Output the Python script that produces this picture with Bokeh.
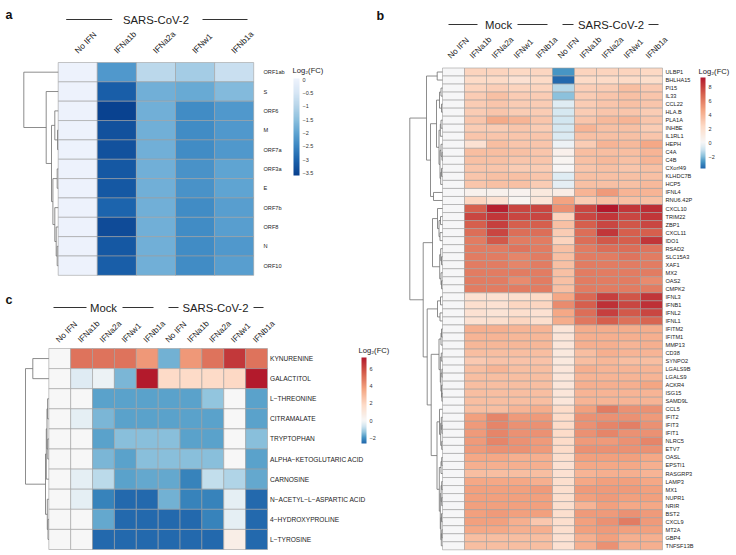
import numpy as np
from bokeh.plotting import figure
from bokeh.models import (Range1d, ColumnDataSource, LinearColorMapper, ColorBar,
                          FixedTicker, CustomJSTickFormatter, AllLabels)
from bokeh.layouts import row, column
from bokeh.embed import file_html
from bokeh.resources import INLINE
from bokeh.core.properties import value

FONT = "Liberation Sans"

# ---------------- data: panel a ----------------
A_COLS = ["No IFN", "IFNa1b", "IFNa2a", "IFNw1", "IFNb1a"]
A_GROUP = "SARS-CoV-2"
A_ROWS = ["ORF1ab", "S", "ORF6", "M", "ORF7a", "ORF3a", "E", "ORF7b", "ORF8", "N", "ORF10"]
A_VALUES = [
    [0, -2.2, -0.9, -1.2, -0.7],
    [0, -3.1, -1.8, -1.9, -1.6],
    [0, -3.55, -1.8, -2.4, -2.2],
    [0, -3.3, -1.8, -2.4, -2.2],
    [0, -3.3, -1.8, -2.4, -2.2],
    [0, -3.2, -1.8, -2.3, -2.0],
    [0, -3.2, -1.8, -2.3, -2.0],
    [0, -3.0, -1.8, -2.4, -2.1],
    [0, -3.4, -1.8, -2.4, -2.1],
    [0, -3.2, -1.8, -2.4, -2.2],
    [0, -3.1, -1.8, -2.4, -2.1],
]
# row tree: [left, right, merge height]; leaves are row indices
A_TREE = [0, [1, [[2, [3, 4, 0.7], 3.4],
                  [[5, 6, 1.0], [7, [8, [9, 10, 1.0], 2.0], 3.4], 5.3], 6.7], 12.0], 34.4]
A_TICKS = [0, -0.5, -1, -1.5, -2, -2.5, -3, -3.5]

# ---------------- data: panel b ----------------
B_COLS = ["No IFN", "IFNa1b", "IFNa2a", "IFNw1", "IFNb1a",
          "No IFN", "IFNa1b", "IFNa2a", "IFNw1", "IFNb1a"]
B_GROUPS = ["Mock", "SARS-CoV-2"]
B_ROWS = ["ULBP1", "BHLHA15", "PI15", "IL33", "CCL22", "HLA.B", "PLA1A", "INHBE", "IL1RL1",
          "HEPH", "C4A", "C4B", "CXorf49", "KLHDC7B", "HCP5", "IFNL4", "RNU6.42P", "CXCL10",
          "TRIM22", "ZBP1", "CXCL11", "IDO1", "RSAD2", "SLC15A3", "XAF1", "MX2", "OAS2",
          "CMPK2", "IFNL3", "IFNB1", "IFNL2", "IFNL1", "IFITM2", "IFITM1", "MMP13", "CD38",
          "SYNPO2", "LGALS9B", "LGALS9", "ACKR4", "ISG15", "SAMD9L", "CCL5", "IFIT2", "IFIT3",
          "IFIT1", "NLRC5", "ETV7", "OASL", "EPSTI1", "RASGRP3", "LAMP3", "MX1", "NUPR1",
          "NRIR", "BST2", "CXCL9", "MT2A", "GBP4", "TNFSF13B"]
B_VALUES = [
    [0, 2.6, 2.6, 2.4, 2.5, -2.7, 2.6, 2.6, 2.6, 2.4],
    [0, 2.3, 2.3, 1.8, 2.3, -3.6, 2.3, 2.3, 2.3, 2.1],
    [0, 2.6, 2.9, 2.6, 2.6, -1.3, 2.9, 3.0, 3.6, 3.1],
    [0, 3.0, 3.5, 3.0, 3.0, -1.9, 3.0, 3.3, 3.5, 3.3],
    [0, 3.0, 3.3, 3.0, 3.0, -0.6, 3.0, 3.3, 3.5, 3.3],
    [0, 3.0, 3.3, 3.0, 3.0, -0.8, 3.0, 3.3, 3.3, 3.0],
    [0, 3.3, 4.4, 4.0, 3.3, -0.9, 3.3, 3.8, 4.0, 3.3],
    [0, 3.0, 3.0, 3.3, 3.0, -0.8, 4.0, 3.5, 3.5, 3.0],
    [0, 3.3, 3.3, 3.3, 3.3, -0.7, 3.5, 3.5, 3.5, 3.3],
    [0, 1.8, 3.6, 3.3, 3.3, -0.2, 3.0, 4.0, 3.8, 4.5],
    [0, 3.6, 3.6, 3.5, 3.3, 0.6, 3.6, 3.6, 3.6, 4.0],
    [0, 3.5, 3.5, 3.3, 3.3, 0.3, 3.5, 3.8, 3.5, 4.0],
    [0, 3.3, 3.3, 3.0, 3.0, 0.1, 3.3, 3.5, 3.3, 3.5],
    [0, 3.3, 3.5, 3.5, 3.3, -0.6, 3.5, 3.5, 3.5, 3.5],
    [0, 3.3, 3.5, 3.5, 3.0, -0.4, 3.5, 3.5, 3.5, 3.8],
    [0, 0.5, 0.5, 0.4, 1.2, 0.9, 4.0, 5.0, 4.0, 4.0],
    [0, 2.5, 1.8, 0.3, 1.5, 4.7, 3.0, 3.5, 3.5, 3.5],
    [0, 7.0, 9.0, 7.8, 7.8, 5.3, 7.8, 9.3, 8.3, 8.6],
    [0, 7.8, 8.3, 7.8, 7.8, 2.6, 7.8, 8.3, 7.8, 8.3],
    [0, 7.0, 8.0, 7.0, 7.0, 3.5, 7.0, 7.8, 7.3, 7.8],
    [0, 6.5, 7.8, 6.5, 6.5, 3.0, 6.5, 8.3, 7.0, 7.0],
    [0, 6.0, 7.2, 6.0, 6.0, 2.6, 6.5, 7.2, 7.0, 8.3],
    [0, 6.0, 6.0, 6.3, 6.0, 3.5, 6.0, 6.5, 6.5, 6.3],
    [0, 6.0, 6.0, 5.7, 6.0, 3.5, 6.0, 6.0, 6.3, 6.0],
    [0, 6.0, 6.0, 5.7, 6.0, 3.5, 6.0, 6.0, 6.0, 6.0],
    [0, 6.0, 6.0, 6.0, 6.0, 3.5, 6.0, 6.0, 6.0, 6.0],
    [0, 6.0, 6.0, 5.5, 6.0, 3.5, 6.0, 6.0, 6.0, 5.5],
    [0, 6.0, 6.0, 6.0, 6.0, 3.5, 6.0, 6.0, 6.0, 6.0],
    [0, 1.8, 1.8, 2.0, 2.3, 4.5, 6.7, 8.0, 7.3, 8.3],
    [0, 2.0, 1.8, 2.5, 2.5, 5.5, 7.0, 8.5, 7.8, 8.5],
    [0, 1.8, 1.6, 2.0, 1.8, 4.5, 6.5, 8.0, 7.2, 7.8],
    [0, 1.8, 2.0, 2.5, 2.0, 4.3, 6.2, 7.0, 6.4, 6.8],
    [0, 4.2, 4.2, 4.0, 4.0, 1.5, 4.3, 4.3, 4.3, 4.3],
    [0, 4.0, 4.0, 3.9, 3.9, 1.5, 4.2, 4.2, 4.2, 4.2],
    [0, 3.9, 3.9, 3.9, 3.9, 1.4, 4.2, 4.2, 4.0, 4.2],
    [0, 3.6, 3.6, 3.6, 3.6, 1.2, 3.6, 4.2, 4.0, 4.0],
    [0, 3.1, 3.4, 3.4, 3.4, 1.2, 3.6, 3.9, 3.6, 3.6],
    [0, 3.6, 4.0, 3.6, 3.6, 1.4, 4.2, 4.0, 4.0, 4.0],
    [0, 3.6, 3.6, 3.6, 3.6, 1.4, 4.0, 4.0, 4.0, 4.0],
    [0, 3.6, 3.6, 3.6, 3.6, 1.4, 4.2, 4.2, 4.2, 4.6],
    [0, 3.6, 3.6, 3.6, 3.6, 1.4, 4.0, 4.0, 4.0, 4.0],
    [0, 3.6, 3.6, 3.6, 3.6, 1.4, 4.0, 4.0, 4.0, 4.0],
    [0, 3.6, 3.6, 4.0, 4.3, 2.2, 4.8, 6.0, 5.3, 5.3],
    [0, 4.8, 5.7, 5.0, 5.0, 2.2, 5.3, 5.3, 5.3, 5.0],
    [0, 5.0, 5.7, 5.3, 5.3, 2.2, 5.3, 5.7, 5.9, 5.3],
    [0, 5.0, 5.7, 5.3, 5.3, 2.2, 5.3, 5.7, 5.3, 5.3],
    [0, 5.0, 5.7, 5.3, 5.0, 2.2, 5.0, 5.0, 5.3, 5.7],
    [0, 5.0, 5.3, 5.3, 5.0, 2.2, 5.3, 5.3, 5.3, 5.3],
    [0, 4.5, 4.5, 4.2, 4.2, 2.0, 4.8, 4.8, 4.8, 4.5],
    [0, 4.2, 4.2, 4.2, 4.2, 1.8, 4.5, 4.5, 4.5, 4.2],
    [0, 3.6, 3.6, 3.6, 3.6, 1.8, 4.0, 4.2, 4.2, 4.0],
    [0, 4.5, 4.5, 4.5, 4.2, 2.0, 4.5, 4.8, 4.8, 4.5],
    [0, 4.8, 4.8, 4.8, 5.0, 2.0, 5.0, 5.0, 5.0, 4.8],
    [0, 4.8, 4.8, 4.8, 4.8, 2.0, 4.8, 5.0, 4.8, 4.8],
    [0, 4.8, 4.8, 4.8, 4.8, 2.0, 4.0, 4.8, 4.5, 4.5],
    [0, 4.8, 5.0, 4.8, 4.8, 2.0, 5.0, 5.0, 5.3, 5.0],
    [0, 4.8, 4.8, 4.2, 3.2, 2.0, 4.8, 5.3, 6.0, 5.0],
    [0, 4.5, 4.5, 4.2, 4.2, 2.0, 4.8, 5.0, 4.8, 4.8],
    [0, 3.6, 3.6, 3.6, 3.6, 1.8, 4.2, 4.8, 4.2, 4.2],
    [0, 3.6, 3.6, 3.6, 3.6, 1.8, 4.2, 5.3, 4.2, 4.2],
]
B_TREE_TOP = [[0, 1, 5.3],
              [[[[2, 3, 1.5], [4, 5, 1.0], 3.0],
                [[[6, 7, 1.5], 8, 2.2], [[9, [10, 11, 0.5], 1.5], [[12, 13, 1.0], 14, 1.8], 2.5], 3.5], 6.0],
               [15, 16, 9.0], 12.0], 16.0]
B_TREE_G1 = [[17, [[18, 19, 2.0], [20, 21, 2.5], 3.5], 5.0],
             [[22, [23, 24, 1.0], 1.8], [25, [26, 27, 1.0], 1.5], 2.8], 10.0]
B_TREE_G2 = [[28, 29, 2.0], [30, 31, 2.5], 5.0]
B_TREE_G3A = [[[32, 33, 1.0], 34, 1.5],
              [[35, 36, 1.2], [[37, 38, 0.6], [39, [40, 41, 0.6], 1.0], 1.6], 2.2], 3.5]
B_TREE_G3B = [[42, [[43, [44, 45, 0.6], 1.2], [46, 47, 0.8], 1.8], 3.0],
              [[[48, 49, 0.8], 50, 1.5],
               [[[51, 52, 0.8], [53, 54, 0.8], 1.4], [[55, 56, 1.0], [[57, 58, 0.6], 59, 1.2], 1.6], 2.2],
               3.2], 5.5]
B_TREE = [B_TREE_TOP,
          [B_TREE_G1, [B_TREE_G2, [B_TREE_G3A, B_TREE_G3B, 11.3], 15.3], 19.3], 32.7]
B_TICKS = [8, 6, 4, 2, 0, -2]

# ---------------- data: panel c ----------------
C_COLS = B_COLS
C_GROUPS = ["Mock", "SARS-CoV-2"]
C_ROWS = ["KYNURENINE", "GALACTITOL", "L\u2212THREONINE", "CITRAMALATE", "TRYPTOPHAN",
          "ALPHA\u2212KETOGLUTARIC ACID", "CARNOSINE", "N\u2212ACETYL\u2212L\u2212ASPARTIC ACID",
          "4\u2212HYDROXYPROLINE", "L\u2212TYROSINE"]
C_VALUES = [
    [0, 5.0, 5.0, 5.0, 4.0, -1.6, 4.0, 5.0, 6.5, 5.0],
    [0, -0.4, -0.2, -1.5, 7.3, 1.8, 1.8, 1.8, 1.9, 7.3],
    [0, 0, -1.8, -1.8, -1.8, -1.8, -1.8, -1.3, 0, -1.8],
    [0, -0.3, -1.5, -1.8, -1.8, -1.8, -1.8, -1.8, 0, -1.8],
    [0, 0, -1.8, -1.4, -1.4, -1.4, -1.8, -1.8, 0, -1.4],
    [0, 0, -1.5, -1.8, -1.4, -1.4, -1.4, -1.4, 0, -1.8],
    [0, -0.3, -0.9, -1.8, -1.7, -1.7, -2.2, -0.8, -1.0, -1.7],
    [0, -0.3, -2.2, -2.6, -2.6, -1.6, -2.2, -2.2, -0.3, -2.6],
    [0, 0, -1.7, -2.6, -2.6, -2.6, -2.6, -2.2, -0.3, -2.6],
    [0, 0, -2.6, -2.6, -2.6, -2.6, -2.6, -2.6, 0.6, -2.6],
]
C_TREE = [[0, 1, 16.0],
          [[[[2, 3, 1.2], [4, 5, 1.0], 1.8], 6, 2.5], [7, [8, 9, 0.8], 1.5], 3.3], 23.3]
C_TICKS = [6, 4, 2, 0, -2]

CB_TITLE = "Log\u2082(FC)"


# ---------------- helpers ----------------
def ramp(stops, low, high, n=256):
    vals = np.linspace(low, high, n)
    sv = [s[0] for s in stops]
    rgb = [[int(s[1][i:i + 2], 16) for i in (1, 3, 5)] for s in stops]
    out = []
    for v in vals:
        c = [int(round(np.interp(v, sv, [q[k] for q in rgb]))) for k in range(3)]
        out.append("#%02x%02x%02x" % tuple(c))
    return out


def diverging(low, high):
    stops = [(low, "#2166ac"), (low * 0.75, "#4393c3"), (low * 0.5, "#92c5de"),
             (low * 0.25, "#d1e5f0"), (0.0, "#f7f7f7"), (high * 0.25, "#fddbc7"),
             (high * 0.5, "#f4a582"), (high * 0.75, "#d6604d"), (high, "#b2182b")]
    return ramp(stops, low, high)


def make_panel(W, H, fig_left, fig_top, hm_left, hm_top, cw, ch):
    xr = Range1d((fig_left - hm_left) / cw, (fig_left + W - hm_left) / cw)
    yr = Range1d((fig_top + H - hm_top) / ch, (fig_top - hm_top) / ch)
    p = figure(width=W, height=H, x_range=xr, y_range=yr, output_backend="svg",
               toolbar_location=None, x_axis_type=None, y_axis_type=None, min_border=0,
               outline_line_color=None, background_fill_color="white",
               border_fill_color="white")
    p.grid.visible = False
    sx = lambda px: (px - hm_left) / cw
    sy = lambda py: (py - hm_top) / ch
    return p, sx, sy


def draw_heatmap(p, vals, mapper):
    nr, nc = len(vals), len(vals[0])
    xs, ys, vs = [], [], []
    for i in range(nr):
        for j in range(nc):
            xs.append(j + 0.5)
            ys.append(i + 0.5)
            vs.append(vals[i][j])
    src = ColumnDataSource(dict(x=xs, y=ys, v=vs))
    p.rect("x", "y", width=1, height=1, source=src,
           fill_color={"field": "v", "transform": mapper},
           line_color="#a0a0a0", line_width=0.6)


def draw_tree(p, tree, cw):
    segs = []

    def rec(t):
        if isinstance(t, int):
            return t + 0.5, 0.0
        l, r, h = t
        yl, hl = rec(l)
        yr, hr = rec(r)
        segs.append((hl, yl, h, yl))
        segs.append((hr, yr, h, yr))
        segs.append((h, yl, h, yr))
        return (yl + yr) / 2, h

    rec(tree)
    p.segment(x0=[-s[0] / cw for s in segs], y0=[s[1] for s in segs],
              x1=[-s[2] / cw for s in segs], y1=[s[3] for s in segs],
              line_color="#707070", line_width=0.8)


def row_labels(p, rows, x, size):
    p.text(x=[x] * len(rows), y=[i + 0.5 for i in range(len(rows))], text=rows,
           text_font=value(FONT), text_font_size=size, text_baseline="middle",
           text_align="left", text_color="#222222")


def col_labels(p, cols, dx, y, size):
    p.text(x=[j + 0.5 + dx for j in range(len(cols))], y=[y] * len(cols), text=cols,
           angle=np.pi / 4, text_font=value(FONT), text_font_size=size,
           text_baseline="bottom", text_align="left", text_color="#222222")


def header(p, label, xc, y, lines):
    p.text(x=[xc], y=[y], text=[label], text_font=value(FONT), text_font_size="11.3px",
           text_baseline="middle", text_align="center", text_color="#222222")
    p.segment(x0=[l[0] for l in lines], y0=[y] * len(lines), x1=[l[1] for l in lines],
              y1=[y] * len(lines), line_color="#333333", line_width=1)


def letter(p, ch, x, y):
    p.text(x=[x], y=[y], text=[ch], text_font=value(FONT), text_font_size="12.5px",
           text_font_style="bold", text_baseline="alphabetic", text_align="left",
           text_color="#111111")


def colorbar(p, mapper, ticks, loc, h, w, tx, ty):
    cb = ColorBar(color_mapper=mapper, location=loc, width=w, height=h,
                  orientation="vertical",
                  ticker=FixedTicker(ticks=ticks),
                  formatter=CustomJSTickFormatter(
                      code="return (tick < 0 ? '\u2212' : '') + Math.abs(tick).toString();"),
                  major_label_policy=AllLabels(),
                  major_label_text_font=FONT,
                  major_label_text_font_size="5.5px", major_label_text_color="#333333",
                  label_standoff=3, major_tick_line_color=None, minor_tick_line_color=None,
                  bar_line_color=None, border_line_color=None, background_fill_alpha=0,
                  padding=0, margin=0)
    p.add_layout(cb, "center")
    p.text(x=[tx], y=[ty], text=[CB_TITLE], text_font=value(FONT), text_font_size="7.6px",
           text_baseline="bottom", text_align="left", text_color="#222222")


# ---------------- panel a ----------------
WA, HA = 400, 282
pa, ax, ay = make_panel(WA, HA, 0, 0, 57.7, 62, 39.1, 19.35)
map_a = LinearColorMapper(palette=ramp([(-3.6, "#083f8e"), (-3.0, "#1c64ad"), (-2.5, "#3a86c2"),
                                        (-2.0, "#5fa4d2"), (-1.5, "#8cc0de"), (-1.0, "#b5d4e9"),
                                        (-0.5, "#d6e6f5"), (0.04, "#eef3fc")], -3.6, 0.04),
                          low=-3.6, high=0.04)
draw_heatmap(pa, A_VALUES, map_a)
draw_tree(pa, A_TREE, 39.1)
row_labels(pa, A_ROWS, ax(263), "5.6px")
col_labels(pa, A_COLS, 2 / 39.1, ay(55), "8.4px")
header(pa, A_GROUP, 2.5, ay(19), [(ax(65.7), ax(111.7)), (ax(202), ax(247))])
letter(pa, "a", ax(5), ay(14.5))
letter(pa, "b", ax(376), ay(15.5))
colorbar(pa, map_a, A_TICKS, (293, 107), 97, 6, ax(292), ay(74))

# ---------------- panel c ----------------
WC, HC = 400, 273
pc, cx, cy = make_panel(WC, HC, 0, 282, 48.3, 348, 21.87, 20.1)
map_c = LinearColorMapper(palette=diverging(-2.67, 7.36), low=-2.67, high=7.36)
draw_heatmap(pc, C_VALUES, map_c)
draw_tree(pc, C_TREE, 21.87)
row_labels(pc, C_ROWS, cx(269.5), "6.6px")
col_labels(pc, C_COLS, 1 / 21.87, cy(344), "8.2px")
header(pc, C_GROUPS[0], 2.5, cy(307), [(cx(53), cx(86)), (cx(122), cx(153))])
header(pc, C_GROUPS[1], 7.62, cy(307), [(cx(168), cx(178)), (cx(253), cx(263))])
letter(pc, "c", cx(5), cy(299.5))
colorbar(pc, map_c, C_TICKS, (361, 112), 86, 5, cx(358), cy(354))

# ---------------- panel b ----------------
WB, HB = 336, 555
pb, bx, by = make_panel(WB, HB, 400, 0, 442, 67.5, 22, 8.03)
map_b = LinearColorMapper(palette=diverging(-3.7, 9.3), low=-3.7, high=9.3)
draw_heatmap(pb, B_VALUES, map_b)
draw_tree(pb, B_TREE, 22)
row_labels(pb, B_ROWS, bx(665), "5.6px")
col_labels(pb, B_COLS, -1 / 22, by(60), "8.2px")
header(pb, B_GROUPS[0], 2.55, by(24), [(bx(448), bx(477)), (bx(517), bx(547))])
header(pb, B_GROUPS[1], 7.66, by(24), [(bx(562), bx(573)), (bx(648), bx(658))])
colorbar(pb, map_b, B_TICKS, (300, 387), 91, 5, bx(698), by(75))

layout = row(column(pa, pc), pb)
open("out.html", "w").write(file_html(layout, INLINE, title="heatmaps"))
